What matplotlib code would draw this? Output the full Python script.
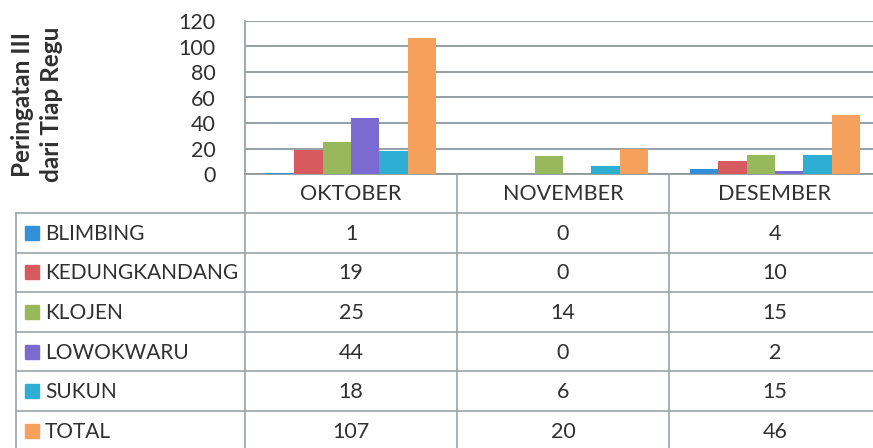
import matplotlib
matplotlib.use("Agg")
import matplotlib.pyplot as plt
from matplotlib.patches import Rectangle
import numpy as np

months = ["OKTOBER", "NOVEMBER", "DESEMBER"]
series_names = ["BLIMBING", "KEDUNGKANDANG", "KLOJEN", "LOWOKWARU", "SUKUN", "TOTAL"]
blimbing = [1, 0, 4]
kedungkandang = [19, 0, 10]
klojen = [25, 14, 15]
lowokwaru = [44, 0, 2]
sukun = [18, 6, 15]
total = [107, 20, 46]
y_ticks = [0, 20, 40, 60, 80, 100, 120]
y_label = "Peringatan III\ndari Tiap Regu"

series_values = [blimbing, kedungkandang, klojen, lowokwaru, sukun, total]
colors = ["#3390d8", "#d65a5e", "#97b95c", "#7b6bd0", "#2eaed2", "#f5a05c"]

plt.rcParams['font.family'] = ['Lato', 'DejaVu Sans']
W, H = 873, 448
fig = plt.figure(figsize=(W / 100, H / 100), dpi=100)

grid_c = "#8e979c"
line_c = "#9aa3a8"
text_c = "#303030"

# Pixel layout
ax_l, ax_r, ax_t, ax_b = 245, 881, 21, 174
ax = fig.add_axes([ax_l / W, 1 - ax_b / H, (ax_r - ax_l) / W, (ax_b - ax_t) / H])
x = np.arange(len(months))
n = len(series_values)
bw = 0.8 / n
for i, (vals, c) in enumerate(zip(series_values, colors)):
    ax.bar(x - 0.4 + bw * (i + 0.5), vals, width=bw, color=c, zorder=3)
ax.set_xlim(-0.5, len(months) - 0.5)
ax.set_ylim(0, 120)
ax.set_yticks(y_ticks)
ax.set_yticklabels([str(t) for t in y_ticks], fontsize=15.5, color=text_c)
ax.tick_params(axis='y', length=0, pad=21)
ax.set_xticks([])
ax.yaxis.grid(True, color=grid_c, linewidth=1.3, zorder=0)
for s in ["top", "right"]:
    ax.spines[s].set_visible(False)
ax.spines["left"].set_color(line_c)
ax.spines["bottom"].set_color(grid_c)
ax.spines["left"].set_linewidth(1.3)
ax.spines["bottom"].set_linewidth(1.3)

# Y label
fig.text(37 / W, 1 - 104 / H, y_label, rotation=90, ha='center', va='center',
         fontsize=17.5, fontweight='bold', color=text_c, linespacing=1.32)

# Table overlay in pixel coordinates
tax = fig.add_axes([0, 0, 1, 1])
tax.set_xlim(0, W)
tax.set_ylim(H, 0)
tax.axis('off')
tax.patch.set_alpha(0)

col_edges = [ax_l + (ax_r - ax_l) * k / len(months) for k in range(len(months) + 1)]
header_bottom = 213
row_h = 39.6
row_edges = [header_bottom + row_h * k for k in range(n + 1)]
tbl_left = 16
lw = 1.2

for xe in col_edges:
    tax.plot([xe, xe], [ax_b, row_edges[-1]], color=line_c, lw=lw)
tax.plot([tbl_left, tbl_left], [header_bottom, row_edges[-1]], color=line_c, lw=lw)
for ye in row_edges:
    tax.plot([tbl_left, col_edges[-1]], [ye, ye], color=line_c, lw=lw)

for k, m in enumerate(months):
    tax.text((col_edges[k] + col_edges[k + 1]) / 2, (ax_b + header_bottom) / 2 + 1, m,
             ha='center', va='center', fontsize=15.5, color=text_c)

for r, (name, vals, c) in enumerate(zip(series_names, series_values, colors)):
    yc = (row_edges[r] + row_edges[r + 1]) / 2
    tax.add_patch(Rectangle((25, yc - 7), 14, 14, color=c))
    tax.text(45, yc + 1, name, ha='left', va='center', fontsize=15, color=text_c)
    for k, v in enumerate(vals):
        tax.text((col_edges[k] + col_edges[k + 1]) / 2, yc + 1, str(v),
                 ha='center', va='center', fontsize=15.5, color=text_c)

fig.savefig("out.png", dpi=100)
